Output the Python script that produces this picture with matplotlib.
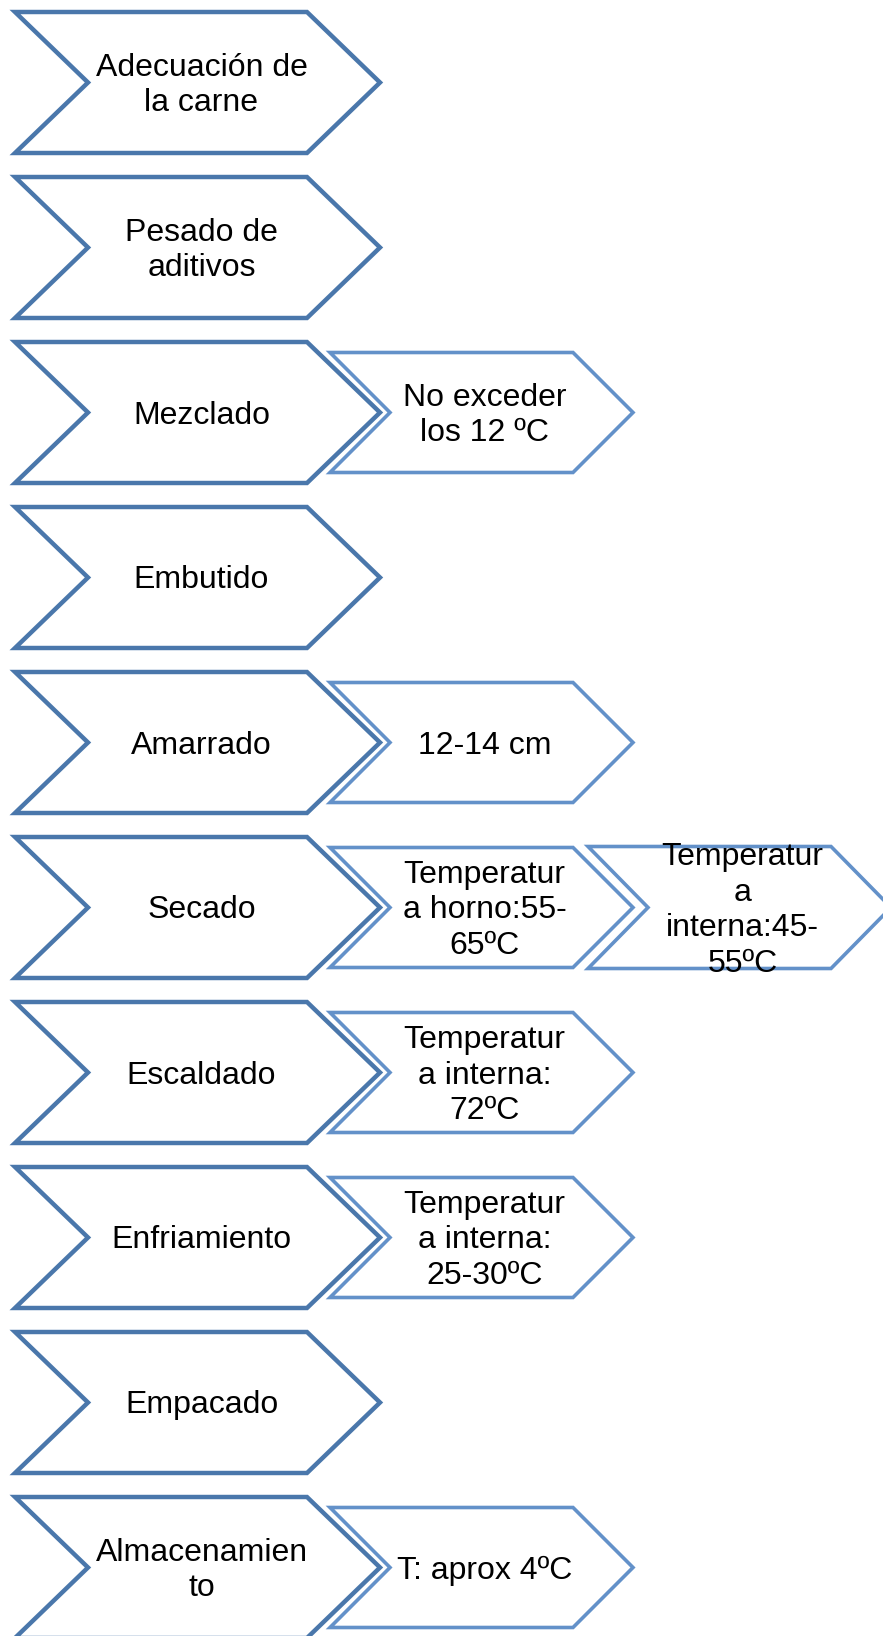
import matplotlib.pyplot as plt
from matplotlib.patches import Polygon

plt.rcParams['font.family'] = ['Liberation Sans', 'DejaVu Sans']

# pasos del proceso
pasos = ["Adecuación de\nla carne", "Pesado de\naditivos", "Mezclado", "Embutido",
         "Amarrado", "Secado", "Escaldado", "Enfriamiento", "Empacado",
         "Almacenamien\nto"]
# notas (nivel 2), None si no hay
notas = [None, None, "No exceder\nlos 12 ºC", None, "12-14 cm",
         "Temperatur\na horno:55-\n65ºC", "Temperatur\na interna:\n72ºC",
         "Temperatur\na interna:\n25-30ºC", None, "T: aprox 4ºC"]
# notas de nivel 3
notas2 = [None, None, None, None, None,
          "Temperatur\na\ninterna:45-\n55ºC", None, None, None, None]

C_MAIN = "#4A77AB"
C_SUB = "#6391C9"


def chevron(ax, x0, y0, w, h, d, color, lw):
    pts = [(x0, y0), (x0 + w - d, y0), (x0 + w, y0 + h / 2),
           (x0 + w - d, y0 + h), (x0, y0 + h), (x0 + d, y0 + h / 2)]
    ax.add_patch(Polygon(pts, closed=True, facecolor="white",
                         edgecolor=color, linewidth=lw, joinstyle="miter"))
    return x0 + w / 2, y0 + h / 2


fig = plt.figure(figsize=(8.83, 16.36), dpi=100)
ax = fig.add_axes([0, 0, 1, 1])
ax.set_xlim(0, 883)
ax.set_ylim(1636, 0)
ax.axis("off")

pitch = 165
fs = 23
ls = 1.24
dy = 3
for i, paso in enumerate(pasos):
    top = 12 + pitch * i
    cx, cy = chevron(ax, 15, top, 365, 141, 73, C_MAIN, 3.2)
    ax.text(cx + 4, cy + dy, paso, ha="center", va="center", fontsize=fs,
            linespacing=ls)
    if notas[i]:
        cx, cy = chevron(ax, 330, top + 10.5, 303, 120, 60, C_SUB, 2.6)
        ax.text(cx + 3, cy + dy, notas[i], ha="center", va="center", fontsize=fs,
                linespacing=ls)
    if notas2[i]:
        cx, cy = chevron(ax, 588, top + 9.5, 303, 122, 60, C_SUB, 2.6)
        ax.text(cx + 3, cy + dy, notas2[i], ha="center", va="center", fontsize=fs,
                linespacing=ls)

fig.savefig("out.png", dpi=100)
